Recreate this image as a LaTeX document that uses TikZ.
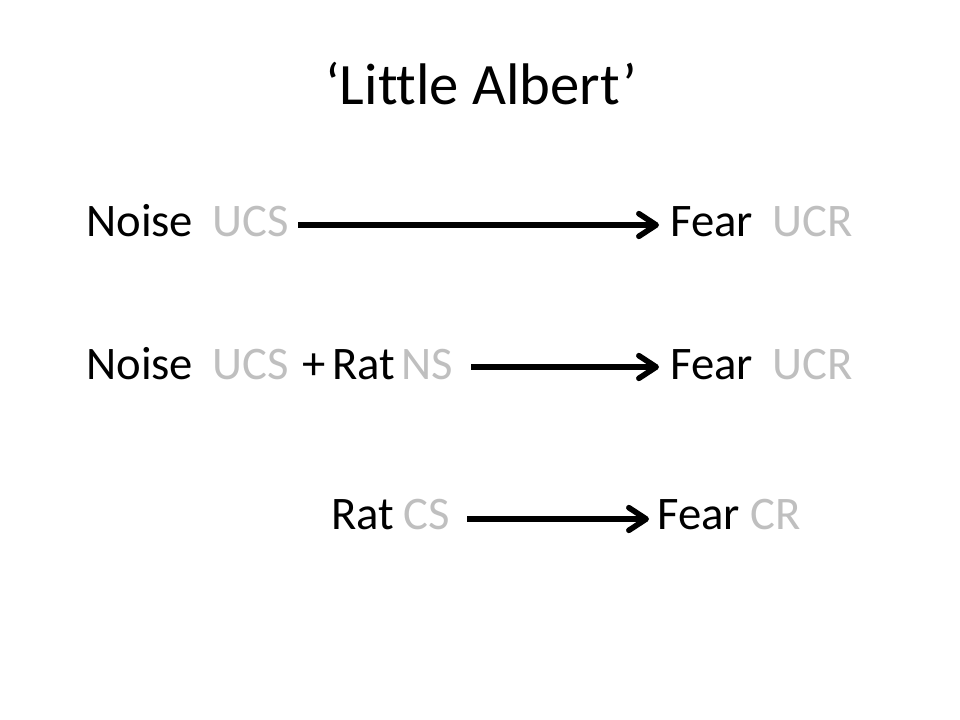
\documentclass[tikz,border=0pt]{standalone}
\usepackage{fontspec}
\setmainfont{Carlito}[Ligatures=CommonOff]
\usetikzlibrary{arrows.meta}
\definecolor{lightgr}{HTML}{BFBFBF}
\begin{document}
\begin{tikzpicture}[x=0.75pt,y=-0.75pt,
  word/.style={anchor=base west,inner sep=0pt,font=\fontsize{35}{40}\selectfont,text=black},
  tag/.style={word,text=lightgr},
  titletext/.style={anchor=base,inner sep=0pt,font=\fontsize{44}{52}\selectfont},
  link/.style={line width=4.2pt,-{Straight Barb[length=13pt,width=17pt,line cap=round,line join=round]}}]
\fill[white] (0,0) rectangle (960,720);
\useasboundingbox (0,0) rectangle (960,720);
\node[titletext] (title) at (481,105) {‘Little Albert’};
% row 1
\node[word] (n1) at (86,237) {Noise};
\node[tag] (u1) at (212,237) {UCS};
\node[word] (f1) at (670,237) {Fear};
\node[tag] (r1) at (772,237) {UCR};
\coordinate (a1s) at (298,225);
\coordinate (a1e) at (659,225);
\draw[link] (a1s) -- (a1e);
% row 2
\node[word] (n2) at (86,379) {Noise};
\node[tag] (u2) at (212,379) {UCS};
\node[word] (p2) at (302,379) {+};
\node[word] (rat2) at (332,379) {Rat};
\node[tag] (ns2) at (401,379) {NS};
\node[word] (f2) at (670,379) {Fear};
\node[tag] (r2) at (772,379) {UCR};
\coordinate (a2s) at (471,367);
\coordinate (a2e) at (659,367);
\draw[link] (a2s) -- (a2e);
% row 3
\node[word] (rat3) at (331,529) {Rat};
\node[tag] (cs3) at (403,529) {CS};
\node[word] (f3) at (657,529) {Fear};
\node[tag] (cr3) at (750,529) {CR};
\coordinate (a3s) at (467,519);
\coordinate (a3e) at (649,519);
\draw[link] (a3s) -- (a3e);
\end{tikzpicture}
\end{document}
